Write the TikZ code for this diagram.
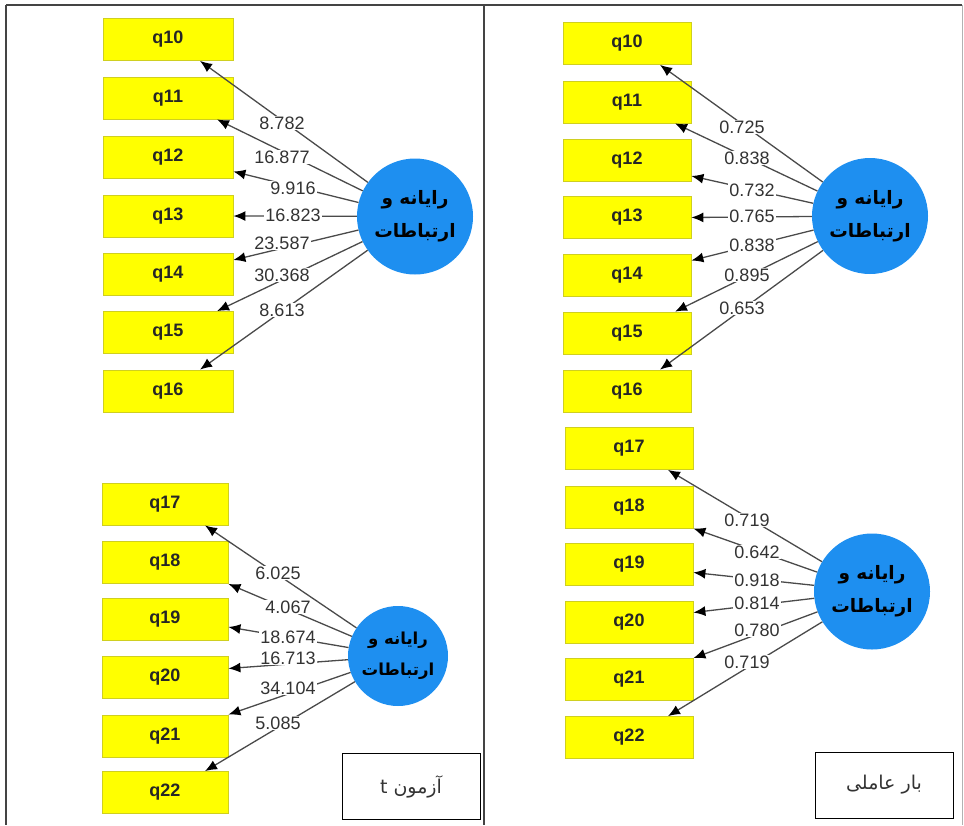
\documentclass[tikz,border=0pt]{standalone}
\usepackage{fontspec}
\setmainfont{Liberation Sans}
\newfontfamily\arabicfont[Script=Arabic]{DejaVu Sans}
\TeXXeTstate=1
\usetikzlibrary{arrows.meta}
\definecolor{boxyellow}{HTML}{FFFF00}
\definecolor{boxedge}{HTML}{CFCF20}
\definecolor{latblue}{HTML}{1E8FF0}
\definecolor{linegray}{HTML}{4A4A4A}
\definecolor{labgray}{HTML}{333333}
\definecolor{framegray}{HTML}{444444}
\tikzset{
  obsbox/.style={draw=boxedge, fill=boxyellow, line width=0.8pt, minimum width=128pt, minimum height=42pt, inner sep=0pt, font=\fontsize{18}{20}\selectfont\bfseries, text=black!85},
  latent/.style={circle, fill=latblue, draw=none, inner sep=0pt, align=center, font=\arabicfont\fontsize{18.5}{33}\selectfont\bfseries, text=black},
  loadlab/.style={fill=white, inner sep=1pt, font=\fontsize{18}{18}\selectfont, text=labgray},
  conn/.style={draw=linegray, line width=1.3pt, -{Latex[length=12pt,width=10pt,color=black]}},
  legendbox/.style={draw=black, line width=1pt, minimum width=138pt, minimum height=66pt, font=\arabicfont\fontsize{19}{20}\selectfont, text=black!80},
  frameline/.style={draw=framegray, line width=1.5pt}
}
\begin{document}
\begin{tikzpicture}[x=1pt,y=-1pt]
\useasboundingbox (0,0) rectangle (964,825);
% frame
\draw[frameline] (6,5) -- (962,5);
\draw[frameline] (6,5) -- (6,825);
\draw[frameline] (484,5) -- (484,825);
\draw[draw=gray!60, line width=1pt] (962,5) -- (962,825);

% ---------- left upper ----------
\foreach \n/\y in {10/39.5,11/98,12/157.5,13/216,14/274,15/332.5,16/391}
  \node[obsbox, minimum width=130pt] (a\n) at (168,\y) {q\n};
\node[latent, minimum size=116pt] (LA) at (415,216.5) {\beginR رایانه و\endR\\\beginR ارتباطات\endR};
\draw[conn] (LA) -- ([xshift=32pt]a10.south);
\draw[conn] (LA) -- ([xshift=49pt]a11.south);
\draw[conn] (LA) -- ([yshift=-14pt]a12.east);
\draw[conn] (LA) -- (a13.east);
\draw[conn] (LA) -- ([yshift=14pt]a14.east);
\draw[conn] (LA) -- ([xshift=49pt]a15.north);
\draw[conn] (LA) -- ([xshift=32pt]a16.north);
\node[loadlab] (la1) at (282,123) {8.782};
\node[loadlab] (la2) at (282,157) {16.877};
\node[loadlab] (la3) at (293,188) {9.916};
\node[loadlab] (la4) at (293,215) {16.823};
\node[loadlab] (la5) at (282,243) {23.587};
\node[loadlab] (la6) at (282,275) {30.368};
\node[loadlab] (la7) at (282,310) {8.613};

% ---------- left lower ----------
\foreach \n/\y in {17/504,18/562.5,19/619,20/677.5,21/736,22/792.5}
  \node[obsbox, minimum width=126pt] (b\n) at (165,\y) {q\n};
\node[latent, minimum size=100pt, font=\arabicfont\fontsize{16.5}{31}\selectfont\bfseries] (LB) at (398,656) {\beginR رایانه و\endR\\\beginR ارتباطات\endR};
\draw[conn] (LB) -- ([xshift=40pt]b17.south);
\draw[conn] (LB) -- (b18.south east);
\draw[conn] (LB) -- ([yshift=-8pt]b19.east);
\draw[conn] (LB) -- ([yshift=9pt]b20.east);
\draw[conn] (LB) -- (b21.north east);
\draw[conn] (LB) -- ([xshift=40pt]b22.north);
\node[loadlab] (lb1) at (278,573) {6.025};
\node[loadlab] (lb2) at (288,607) {4.067};
\node[loadlab] (lb3) at (288,637) {18.674};
\node[loadlab] (lb4) at (288,658) {16.713};
\node[loadlab] (lb5) at (288,688) {34.104};
\node[loadlab] (lb6) at (278,723) {5.085};
\node[legendbox] (legL) at (411,786.5) {\beginR آزمون t\endR};

% ---------- right upper ----------
\foreach \n/\y in {10/43.5,11/102,12/160,13/217.5,14/275.5,15/333,16/391}
  \node[obsbox] (c\n) at (627,\y) {q\n};
\node[latent, minimum size=116pt] (RA) at (870,216) {\beginR رایانه و\endR\\\beginR ارتباطات\endR};
\draw[conn] (RA) -- ([xshift=33pt]c10.south);
\draw[conn] (RA) -- ([xshift=48pt]c11.south);
\draw[conn] (RA) -- ([yshift=-16pt]c12.east);
\draw[conn] (RA) -- (c13.east);
\draw[conn] (RA) -- ([yshift=15pt]c14.east);
\draw[conn] (RA) -- ([xshift=48pt]c15.north);
\draw[conn] (RA) -- ([xshift=33pt]c16.north);
\node[loadlab] (lc1) at (742,127) {0.725};
\node[loadlab] (lc2) at (747,158) {0.838};
\node[loadlab] (lc3) at (752,190) {0.732};
\node[loadlab] (lc4) at (752,216) {0.765};
\node[loadlab] (lc5) at (752,245) {0.838};
\node[loadlab] (lc6) at (747,275) {0.895};
\node[loadlab] (lc7) at (742,308) {0.653};

% ---------- right lower ----------
\foreach \n/\y in {17/448.5,18/507,19/564.5,20/622.5,21/679.5,22/737.5}
  \node[obsbox] (d\n) at (629,\y) {q\n};
\node[latent, minimum size=116pt] (RB) at (872,591.5) {\beginR رایانه و\endR\\\beginR ارتباطات\endR};
\draw[conn] (RB) -- ([xshift=39pt]d17.south);
\draw[conn] (RB) -- (d18.south east);
\draw[conn] (RB) -- ([yshift=-8pt]d19.east);
\draw[conn] (RB) -- ([yshift=10pt]d20.east);
\draw[conn] (RB) -- (d21.north east);
\draw[conn] (RB) -- ([xshift=39pt]d22.north);
\node[loadlab] (ld1) at (747,520) {0.719};
\node[loadlab] (ld2) at (757,552) {0.642};
\node[loadlab] (ld3) at (757,580) {0.918};
\node[loadlab] (ld4) at (757,603) {0.814};
\node[loadlab] (ld5) at (757,630) {0.780};
\node[loadlab] (ld6) at (747,662) {0.719};
\node[legendbox] (legR) at (884,785) {\beginR بار عاملی\endR};
\end{tikzpicture}
\end{document}
